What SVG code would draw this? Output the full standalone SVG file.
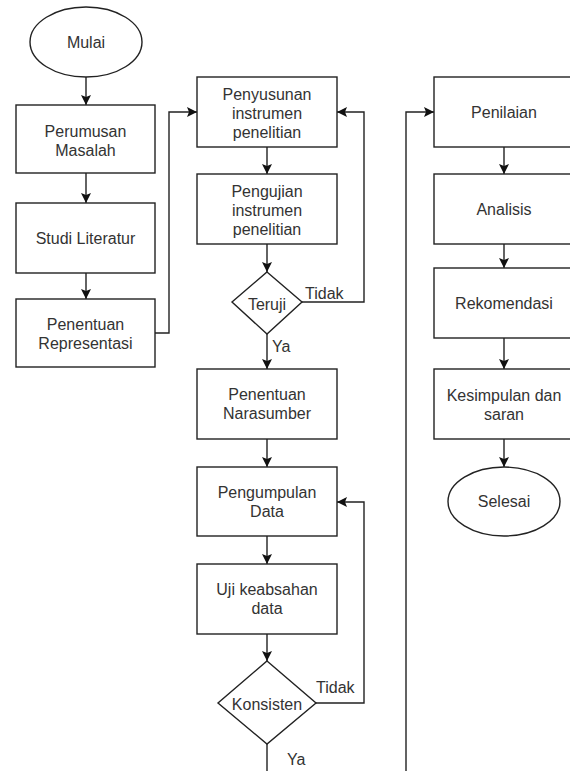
<svg xmlns="http://www.w3.org/2000/svg" width="570" height="771" viewBox="0 0 570 771">
<style>
.n{fill:#fff;stroke:#222;stroke-width:1.4}
.t{font-family:"Liberation Sans",Arial,sans-serif;font-size:16px;fill:#333;text-anchor:middle}
.l{font-family:"Liberation Sans",Arial,sans-serif;font-size:16px;fill:#333}
.c{fill:none;stroke:#222;stroke-width:1.4}
</style>
<defs>
<marker id="a" markerUnits="userSpaceOnUse" markerWidth="12" markerHeight="12" refX="10" refY="6" orient="auto">
<path d="M0,1 L10,6 L0,11 L2,6 Z" fill="#111"/>
</marker>
</defs>
<rect width="570" height="771" fill="#fff"/>
<g id="connectors">
<path class="c" d="M86,77 V105" marker-end="url(#a)"/>
<path class="c" d="M86,173 V203" marker-end="url(#a)"/>
<path class="c" d="M86,273 V299" marker-end="url(#a)"/>
<path class="c" d="M155,333 H169 V112 H197" marker-end="url(#a)"/>
<path class="c" d="M267,147 V174" marker-end="url(#a)"/>
<path class="c" d="M267,244 V272" marker-end="url(#a)"/>
<path class="c" d="M302,302 H364 V112 H337" marker-end="url(#a)"/>
<path class="c" d="M267,334 V369" marker-end="url(#a)"/>
<path class="c" d="M267,439 V467" marker-end="url(#a)"/>
<path class="c" d="M267,536 V564" marker-end="url(#a)"/>
<path class="c" d="M267,634 V661" marker-end="url(#a)"/>
<path class="c" d="M316,703 H364 V502 H337" marker-end="url(#a)"/>
<path class="c" d="M267,744 V776 H406 V112 H434" marker-end="url(#a)"/>
<path class="c" d="M504,147 V174" marker-end="url(#a)"/>
<path class="c" d="M504,244 V268" marker-end="url(#a)"/>
<path class="c" d="M504,338 V369" marker-end="url(#a)"/>
<path class="c" d="M504,439 V467" marker-end="url(#a)"/>
<text class="l" x="305" y="299">Tidak</text>
<text class="l" x="272" y="352">Ya</text>
<text class="l" x="316" y="693">Tidak</text>
<text class="l" x="287" y="765">Ya</text>
</g>
<g id="mulai"><ellipse class="n" cx="86" cy="42" rx="56" ry="35"/><text class="t" x="86" y="47.5">Mulai</text></g>
<g id="perumusan"><rect class="n" x="16" y="105" width="139" height="68"/><text class="t" x="85.5" y="137">Perumusan</text><text class="t" x="85.5" y="156">Masalah</text></g>
<g id="studi"><rect class="n" x="16" y="203" width="139" height="70"/><text class="t" x="85.5" y="243.5">Studi Literatur</text></g>
<g id="representasi"><rect class="n" x="16" y="299" width="139" height="68"/><text class="t" x="85.5" y="329.5">Penentuan</text><text class="t" x="85.5" y="348.5">Representasi</text></g>
<g id="penyusunan"><rect class="n" x="197" y="77" width="140" height="70"/><text class="t" x="267" y="99.5">Penyusunan</text><text class="t" x="267" y="118.5">instrumen</text><text class="t" x="267" y="137.5">penelitian</text></g>
<g id="pengujian"><rect class="n" x="197" y="174" width="140" height="70"/><text class="t" x="267" y="196.5">Pengujian</text><text class="t" x="267" y="215.5">instrumen</text><text class="t" x="267" y="234.5">penelitian</text></g>
<g id="teruji"><polygon class="n" points="267,272 302,302 267,334 232,302"/><text class="t" x="267" y="310">Teruji</text></g>
<g id="narasumber"><rect class="n" x="197" y="369" width="140" height="70"/><text class="t" x="267" y="400">Penentuan</text><text class="t" x="267" y="419">Narasumber</text></g>
<g id="pengumpulan"><rect class="n" x="197" y="467" width="140" height="69"/><text class="t" x="267" y="498">Pengumpulan</text><text class="t" x="267" y="517">Data</text></g>
<g id="uji"><rect class="n" x="197" y="564" width="140" height="70"/><text class="t" x="267" y="595">Uji keabsahan</text><text class="t" x="267" y="614">data</text></g>
<g id="konsisten"><polygon class="n" points="267,661 316,703 267,744 218,703"/><text class="t" x="267" y="709.5">Konsisten</text></g>
<g id="penilaian"><rect class="n" x="434" y="77" width="140" height="70"/><text class="t" x="504" y="117.5">Penilaian</text></g>
<g id="analisis"><rect class="n" x="434" y="174" width="140" height="70"/><text class="t" x="504" y="214.5">Analisis</text></g>
<g id="rekomendasi"><rect class="n" x="434" y="268" width="140" height="70"/><text class="t" x="504" y="308.5">Rekomendasi</text></g>
<g id="kesimpulan"><rect class="n" x="434" y="369" width="140" height="70"/><text class="t" x="504" y="401">Kesimpulan dan</text><text class="t" x="504" y="420">saran</text></g>
<g id="selesai"><ellipse class="n" cx="504" cy="501.5" rx="56" ry="34.5"/><text class="t" x="504" y="507">Selesai</text></g>
</svg>
